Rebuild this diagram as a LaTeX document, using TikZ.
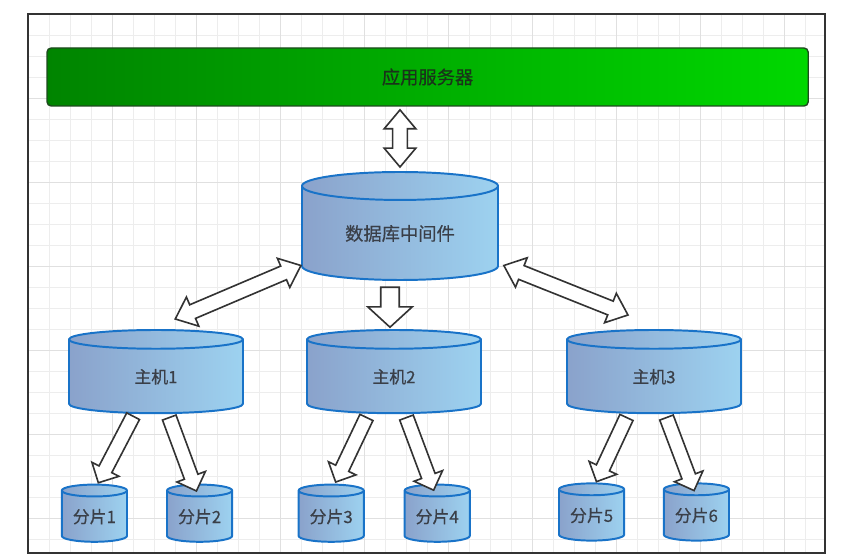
\documentclass[tikz,border=0pt]{standalone}
\usepackage{fontspec}
\setmainfont{Noto Sans CJK SC}[FakeBold=0.4]
\usetikzlibrary{shapes.geometric, shapes.arrows, calc}
\definecolor{gridminor}{HTML}{EDEDED}
\definecolor{gridmajor}{HTML}{E0E0E0}
\definecolor{framecol}{HTML}{333333}
\definecolor{serverleft}{HTML}{008400}
\definecolor{serverright}{HTML}{00D800}
\definecolor{serverborder}{HTML}{1E4A1E}
\definecolor{servertext}{HTML}{1A331A}
\definecolor{dbleft}{HTML}{8AA2CB}
\definecolor{dbright}{HTML}{9DD2F0}
\definecolor{dbborder}{HTML}{1973C8}
\definecolor{dbtext}{HTML}{3A3F48}
\definecolor{arrowline}{HTML}{333333}
\tikzset{
  server/.style={rectangle, rounded corners=3pt, draw=serverborder, line width=1pt, left color=serverleft, right color=serverright, minimum width=19.03cm, minimum height=1.45cm, font=\fontsize{13}{15}\selectfont, text=servertext},
  db/.style={cylinder, shape border rotate=90, anchor=shape center, draw=dbborder, line width=1.4pt, left color=dbleft, right color=dbright, text=dbtext, inner sep=0pt},
  middleware/.style={db, minimum width=4.9cm, minimum height=2.7cm, aspect=0.255, font=\fontsize{13}{15}\selectfont},
  host/.style={db, minimum width=4.35cm, minimum height=2.08cm, aspect=0.435, font=\fontsize{12}{14}\selectfont},
  shard/.style={db, minimum width=1.63cm, minimum height=1.43cm, aspect=0.275, font=\fontsize{12}{14}\selectfont},
  block/.style={draw=arrowline, fill=white, line width=1.15pt, inner xsep=0pt, anchor=center},
  dblock/.style={block, double arrow, inner ysep=0.165cm, double arrow head extend=0.21cm, double arrow tip angle=80},
  bigblock/.style={block, single arrow, inner ysep=0.21cm, single arrow head extend=0.325cm, single arrow tip angle=95},
  sblock/.style={block, single arrow, inner ysep=0.16cm, single arrow head extend=0.2cm, single arrow tip angle=90}
}
% block arrow between two points: style, from, to
\newcommand{\linkarrow}[3]{%
  \path let \p1=(#2), \p2=(#3), \n1={atan2(\y2-\y1,\x2-\x1)}, \n2={veclen(\x2-\x1,\y2-\y1)} in
    node[#1, minimum height=\n2, rotate=\n1] at ({(\x1+\x2)/2},{(\y1+\y2)/2}) {};%
}

\begin{document}
\begin{tikzpicture}

\useasboundingbox (0,0) rectangle (21.15,-13.925);

% grid and frame
\begin{scope}[shift={(0.7,-0.35)}]
  \draw[gridminor, line width=0.5pt, step=0.525] (0,-13.48) grid (19.93,0);
  \draw[gridmajor, line width=0.6pt, step=2.1] (0,-13.48) grid (19.93,0);
\end{scope}
\draw[framecol, line width=1.2pt] (0.7,-0.35) rectangle (20.63,-13.83);

\node[server] (app) at (10.69,-1.925) {应用服务器};

\node[middleware] (mw) at (10.0,-5.65) {数据库中间件};

\node[host] (h1) at (3.9,-9.29) {主机1};
\node[host] (h2) at (9.85,-9.29) {主机2};
\node[host] (h3) at (16.35,-9.29) {主机3};

\node[shard] (s1) at (2.36,-12.83) {分片1};
\node[shard] (s2) at (4.99,-12.83) {分片2};
\node[shard] (s3) at (8.28,-12.83) {分片3};
\node[shard] (s4) at (10.93,-12.83) {分片4};
\node[shard] (s5) at (14.79,-12.8) {分片5};
\node[shard] (s6) at (17.41,-12.8) {分片6};

\linkarrow{dblock}{$(mw.north)+(0,0.1)$}{$(mw.north |- app.south)+(0,-0.08)$}
\linkarrow{dblock}{$(mw.west)+(0,-0.8)$}{$(h1.north)+(0.48,0.25)$}
\linkarrow{dblock}{$(mw.east)+(0.12,-0.8)$}{$(h3.north)+(-0.65,0.35)$}
\linkarrow{bigblock}{$(mw.south)+(-0.25,-0.05)$}{$(h2.north)+(-0.1,0.15)$}

\linkarrow{sblock}{$(h1.south)+(-0.53,0.03)$}{$(s1.north)+(0.14,0.1)$}
\linkarrow{sblock}{$(h1.south)+(0.3,0)$}{$(s2.north)+(-0.11,-0.1)$}
\linkarrow{sblock}{$(h2.south)+(-0.65,0)$}{$(s3.north)+(0.15,0.12)$}
\linkarrow{sblock}{$(h2.south)+(0.28,0)$}{$(s4.north)+(-0.12,-0.08)$}
\linkarrow{sblock}{$(h3.south)+(-0.65,0)$}{$(s5.north)+(0.16,0.1)$}
\linkarrow{sblock}{$(h3.south)+(0.28,0)$}{$(s6.north)+(-0.09,-0.12)$}

\end{tikzpicture}
\end{document}
